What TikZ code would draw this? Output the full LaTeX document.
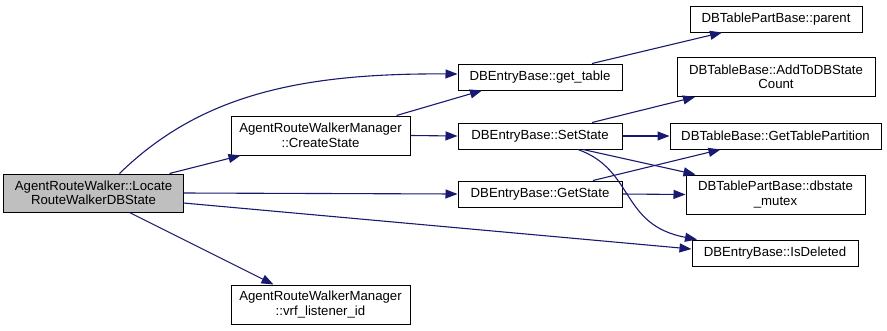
\documentclass[tikz,border=0pt]{standalone}
\usepackage{fontspec}
\setmainfont{Liberation Sans}
\usetikzlibrary{arrows.meta,calc}
\definecolor{edgeblue}{HTML}{191970}
\definecolor{rootgray}{HTML}{BFBFBF}
\begin{document}
\begin{tikzpicture}[x=1bp,y=-1bp,
  fn/.style={draw=black, line width=1bp, fill=white, inner sep=0pt, align=center,
             font=\fontsize{13.2bp}{14.5bp}\selectfont},
  root/.style={fn, fill=rootgray},
  call/.style={draw=edgeblue, line width=1.1bp, -{Triangle[length=12bp,width=9bp]}}]
\useasboundingbox (0,0) rectangle (887,330);

% functions
\node[root, minimum width=179bp, minimum height=38bp] (main) at (93.5,193)
  {AgentRouteWalker::Locate\\RouteWalkerDBState};
\node[fn, minimum width=179bp, minimum height=39bp] (create) at (320.5,135.5)
  {AgentRouteWalkerManager\\::CreateState};
\node[fn, minimum width=179bp, minimum height=39bp] (vrf) at (320.5,304.5)
  {AgentRouteWalkerManager\\::vrf\_listener\_id};
\node[fn, minimum width=164bp, minimum height=26bp] (gettable) at (540,77)
  {DBEntryBase::get\_table};
\node[fn, minimum width=164bp, minimum height=26bp] (setstate) at (540,136)
  {DBEntryBase::SetState};
\node[fn, minimum width=164bp, minimum height=26bp] (getstate) at (540,194)
  {DBEntryBase::GetState};
\node[fn, minimum width=172bp, minimum height=26bp] (parent) at (776,19)
  {DBTablePartBase::parent};
\node[fn, minimum width=198bp, minimum height=39bp] (addto) at (776,77)
  {DBTableBase::AddToDBState\\Count};
\node[fn, minimum width=211bp, minimum height=26bp] (partition) at (775.5,136)
  {DBTableBase::GetTablePartition};
\node[fn, minimum width=179bp, minimum height=39bp] (mutex) at (775.5,194.5)
  {DBTablePartBase::dbstate\\\_mutex};
\node[fn, minimum width=166bp, minimum height=26bp] (deleted) at (775,253)
  {DBEntryBase::IsDeleted};

% calls (shifts are canvas offsets: positive yshift points up)
\draw[call] ([xshift=26bp]main.north) .. controls (200,95) and (300,73) .. ([yshift=3bp]gettable.west);
\draw[call] ([xshift=76bp]main.north) -- ([xshift=-80bp]create.south);
\draw[call] (main.east) -- (getstate.west);
\draw[call] ([yshift=-10bp]main.east) -- ([yshift=4bp]deleted.west);
\draw[call] ([xshift=36bp]main.south) -- ([xshift=-47bp]vrf.north);

\draw[call] ([xshift=76bp]create.north) -- ([xshift=-58bp]gettable.south);
\draw[call] (create.east) -- (setstate.west);

\draw[call] ([xshift=52bp]gettable.north) -- ([xshift=-54bp]parent.south);

\draw[call] ([xshift=52bp]setstate.north) -- ([xshift=-81bp]addto.south);
\draw[call] (setstate.east) -- (partition.west);
\draw[call] ([xshift=43bp]setstate.south) -- ([xshift=-80bp]mutex.north);
\draw[call] ([xshift=38bp]setstate.south) .. controls (635,170) and (620,225) .. ([xshift=-78bp]deleted.north);

\draw[call] ([xshift=53bp]getstate.north) -- ([xshift=-55bp]partition.south);
\draw[call] (getstate.east) -- (mutex.west);
\end{tikzpicture}
\end{document}
